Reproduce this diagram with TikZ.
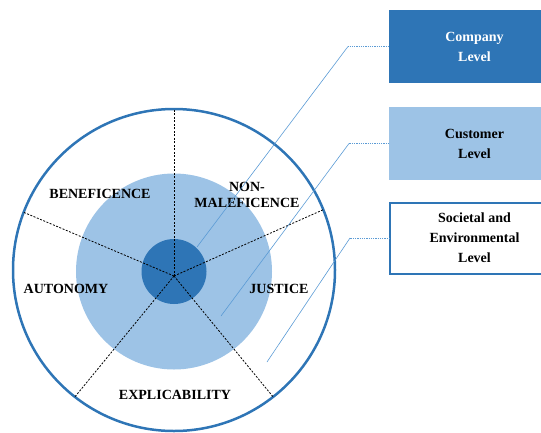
\documentclass[tikz,border=0pt]{standalone}
\usepackage{fontspec}
\setmainfont{Liberation Serif}
\usetikzlibrary{positioning}
\definecolor{darkblue}{HTML}{2E75B6}
\definecolor{lightblue}{HTML}{9DC3E6}
\definecolor{linkblue}{HTML}{5B9BD5}

\begin{document}
\begin{tikzpicture}[x=1pt, y=-1pt, font=\bfseries\fontsize{14}{20}\selectfont]

        % Setup the styles for the rings, labels and boxes
        \tikzset{ring style/.style={circle,
                                    inner sep=0pt,
                                    outer sep=0pt},
                 label style/.style={align=center,
                                     font=\bfseries\fontsize{14}{16}\selectfont},
                 box style/.style={rectangle,
                                   minimum width=171pt,
                                   minimum height=73pt,
                                   align=center,
                                   outer sep=0pt},
                 spoke style/.style={dash pattern=on 2pt off 1.5pt,
                                     line width=0.8pt},
                 link style/.style={draw=linkblue,
                                    line width=0.6pt}}

        \useasboundingbox (0, 0) rectangle (541, 432);

        % Draw the rings
        \node[ring style, fill=lightblue, minimum size=196pt] at (174, 271.5) (middle) {};
        \node[ring style, fill=darkblue, minimum size=65pt]   at (174, 271.5) (inner)  {};
        \node[ring style, draw=darkblue, line width=2.5pt,
              minimum size=322pt]                             at (174, 270)   (outer)  {};
        \coordinate (hub) at (174, 276);

        % Draw the spokes
        \foreach \a in {90, 22.7, 159, 232.8, 308}
            \draw[spoke style] (hub) -- (outer.\a);

        % Draw the principles
        \node[label style] at (100, 194) (benef)   {BENEFICENCE};
        \node[label style] at (247, 195) (nonmal)  {NON-\\MALEFICENCE};
        \node[label style] at (66, 289)  (auton)   {AUTONOMY};
        \node[label style] at (279, 289) (justice) {JUSTICE};
        \node[label style] at (175, 395) (explic)  {EXPLICABILITY};

        % Draw the levels
        \node[box style, fill=darkblue, text=white] at (474.5, 46.5)  (company)  {Company\\Level};
        \node[box style, fill=lightblue]            at (474.5, 143.5) (customer) {Customer\\Level};
        \node[box style, draw=darkblue, line width=2pt, fill=white,
              minimum height=71pt, minimum width=169pt] at (474.5, 238) (societal) {Societal and\\Environmental\\Level};

        % Connect the levels with the rings
        \coordinate (knee1) at (348, 46.5);
        \coordinate (tip1)  at (197, 247);
        \coordinate (knee2) at (349, 143.5);
        \coordinate (tip2)  at (221, 316);
        \coordinate (knee3) at (350, 238);
        \coordinate (tip3)  at (267, 362);
        \draw[link style]
            (company.west)  edge[dash pattern=on 1pt off 0.8pt] (knee1)
            (knee1)         edge                                (tip1)
            (customer.west) edge[dash pattern=on 1pt off 0.8pt] (knee2)
            (knee2)         edge                                (tip2)
            (societal.west) edge[dash pattern=on 1pt off 0.8pt] (knee3)
            (knee3)         edge                                (tip3)
            ;
\end{tikzpicture}
\end{document}
